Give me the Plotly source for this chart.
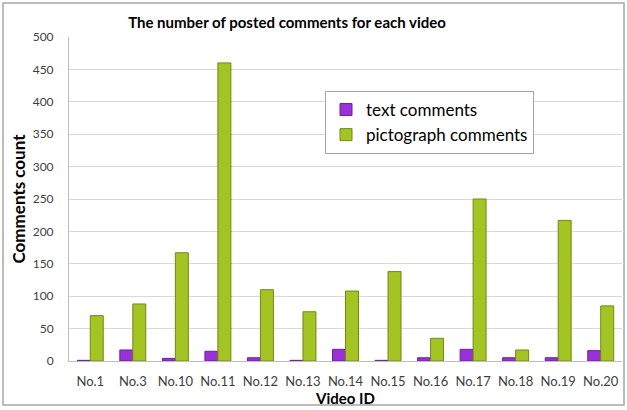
import plotly.graph_objects as go

# Comment counts per video
videos = ["No.1", "No.3", "No.10", "No.11", "No.12", "No.13", "No.14",
          "No.15", "No.16", "No.17", "No.18", "No.19", "No.20"]
text_comments = [1, 17, 4, 15, 5, 1, 18, 1, 5, 18, 5, 5, 16]
pictograph_comments = [70, 88, 167, 460, 110, 76, 108, 138, 35, 250, 17, 217, 85]
y_ticks = [0, 50, 100, 150, 200, 250, 300, 350, 400, 450, 500]

W, H = 627, 410
L, R, T, B = 69, 5, 37, 49
pw, ph = W - L - R, H - T - B

def px_x(x):
    return (x - L) / pw

def px_y(y):
    return (H - B - y) / ph

fig = go.Figure()
fig.add_trace(go.Bar(
    x=videos, y=text_comments, name="text comments",
    marker=dict(color="#9b30d9", line=dict(color="#6a1fa0", width=1)),
))
fig.add_trace(go.Bar(
    x=videos, y=pictograph_comments, name="pictograph comments",
    marker=dict(color="#a4c424", line=dict(color="#6f8a12", width=1)),
))

# outer chart frame
fig.add_shape(type="rect", xref="paper", yref="paper",
              x0=px_x(3), x1=px_x(624), y0=px_y(405), y1=px_y(3),
              line=dict(color="#a6a6a6", width=1.5), fillcolor="rgba(0,0,0,0)",
              layer="below")

fig.update_layout(
    width=W, height=H,
    margin=dict(l=L, r=R, t=T, b=B),
    paper_bgcolor="white", plot_bgcolor="white",
    barmode="group", bargap=0.39, bargroupgap=0.0,
    font=dict(family="Lato, 'Open Sans', sans-serif", color="#404040"),
    title=dict(text="<b>The number of posted comments for each video</b>",
               x=287 / W, xanchor="center", xref="container",
               y=1 - 23 / H, yanchor="middle", yref="container",
               font=dict(size=15, color="#000000")),
    showlegend=True,
    legend=dict(x=px_x(325), y=px_y(91), xanchor="left", yanchor="top",
                bgcolor="white", bordercolor="#a6a6a6", borderwidth=1,
                font=dict(size=17, color="#000000"),
                itemwidth=30, tracegroupgap=0),
    xaxis=dict(
        showgrid=False, showline=True, linecolor="#bfbfbf",
        tickfont=dict(size=13, color="#404040"), ticks="",
        ticklabelstandoff=8,
        title=dict(text="<b>Video ID</b>", font=dict(size=15, color="#000000"),
                   standoff=0),
    ),
    yaxis=dict(
        range=[0, 500], tickvals=y_ticks, showgrid=True, gridcolor="#d9d9d9",
        showline=True, linecolor="#bfbfbf", zeroline=False,
        tickfont=dict(size=12, color="#404040"), ticks="",
        ticklabelstandoff=12,
        title=dict(text="<b>Comments count</b>", font=dict(size=17, color="#000000"),
                   standoff=2),
    ),
)

fig.write_html("out.html")
